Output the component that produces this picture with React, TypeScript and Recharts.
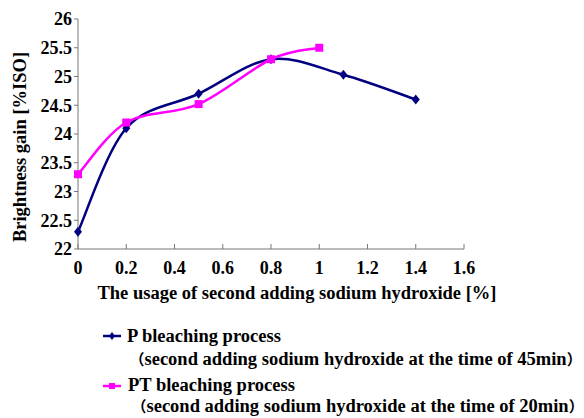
import React from "react";
import { LineChart, Line, XAxis, YAxis } from "recharts";

const xP = [0, 0.2, 0.5, 0.8, 1.1, 1.4];
const yP = [22.3, 24.1, 24.7, 25.3, 25.03, 24.6];
const xPT = [0, 0.2, 0.5, 0.8, 1.0];
const yPT = [23.3, 24.2, 24.52, 25.3, 25.5];
const xTicks = [0, 0.2, 0.4, 0.6, 0.8, 1, 1.2, 1.4, 1.6];
const yTicks = [22, 22.5, 23, 23.5, 24, 24.5, 25, 25.5, 26];

const pData = xP.map((x, i) => ({ x, y: yP[i] }));
const ptData = xPT.map((x, i) => ({ x, y: yPT[i] }));

const navy = "#000080";
const magenta = "#ff00ff";
const serif = "'Liberation Serif', 'Times New Roman', serif";
const cjk = "'Noto Sans CJK SC', sans-serif";

// excel-like smoothed line (catmull-rom through the points)
const smooth = (context: any) => {
  let pts: number[][] = [];
  return {
    areaStart() {},
    areaEnd() {},
    lineStart() {
      pts = [];
    },
    point(x: number, y: number) {
      pts.push([+x, +y]);
    },
    lineEnd() {
      if (!pts.length) return;
      context.moveTo(pts[0][0], pts[0][1]);
      for (let i = 0; i < pts.length - 1; i++) {
        const p0 = pts[Math.max(i - 1, 0)];
        const p1 = pts[i];
        const p2 = pts[i + 1];
        const p3 = pts[Math.min(i + 2, pts.length - 1)];
        context.bezierCurveTo(
          p1[0] + (p2[0] - p0[0]) / 6,
          p1[1] + (p2[1] - p0[1]) / 6,
          p2[0] - (p3[0] - p1[0]) / 6,
          p2[1] - (p3[1] - p1[1]) / 6,
          p2[0],
          p2[1]
        );
      }
    },
  };
};

const Diamond = (props: any) => {
  const { cx, cy, key } = props;
  return <polygon key={key} points={`${cx},${cy - 5} ${cx + 4},${cy} ${cx},${cy + 5} ${cx - 4},${cy}`} fill={navy} />;
};

const Square = (props: any) => {
  const { cx, cy, key } = props;
  return <rect key={key} x={cx - 4} y={cy - 4} width={8} height={8} fill={magenta} />;
};

const XTick = (props: any) => {
  const { x, y, payload } = props;
  return (
    <g>
      <line x1={x} x2={x} y1={y - 5} y2={y} stroke="#777" />
      <text x={x} y={y + 25} textAnchor="middle" fontSize={18} fontWeight="bold" fontFamily={serif} fill="#000">
        {payload.value}
      </text>
    </g>
  );
};

const legendRow = (top: number, left: number): React.CSSProperties => ({
  position: "absolute",
  top,
  left,
  fontSize: 18.5,
  fontWeight: "bold",
  fontFamily: serif,
  whiteSpace: "nowrap",
  lineHeight: "18px",
});

const parenStyle: React.CSSProperties = {
  fontFamily: cjk,
  fontSize: 15,
  display: "inline-block",
  lineHeight: "18px",
};

const Note = ({ text }: { text: string }) => (
  <>
    <span style={{ ...parenStyle, width: 18.5, textAlign: "right" }}>（</span>
    {text}
    <span style={{ ...parenStyle, width: 10 }}>）</span>
  </>
);

export default function App() {
  return (
    <div style={{ position: "absolute", left: 0, top: 0, width: 584, height: 418, background: "#fff", overflow: "hidden" }}>
      <LineChart width={584} height={310} margin={{ top: 19, right: 120, bottom: 0, left: 0 }}>
        <XAxis
          type="number"
          dataKey="x"
          domain={[0, 1.6]}
          ticks={xTicks}
          height={61}
          stroke="#777"
          tickLine={false}
          tickSize={0}
          tickMargin={0}
          tick={<XTick />}
          interval={0}
        />
        <YAxis
          type="number"
          domain={[22, 26]}
          ticks={yTicks}
          width={78}
          stroke="#777"
          tickSize={4}
          tickMargin={2}
          interval={0}
          tick={{ fill: "#000", fontSize: 18, fontWeight: "bold", fontFamily: serif }}
        />
        <Line
          data={pData}
          dataKey="y"
          type={smooth as any}
          stroke={navy}
          strokeWidth={2.5}
          dot={Diamond}
          activeDot={false}
          isAnimationActive={false}
        />
        <Line
          data={ptData}
          dataKey="y"
          type={smooth as any}
          stroke={magenta}
          strokeWidth={2.5}
          dot={Square}
          activeDot={false}
          isAnimationActive={false}
        />
      </LineChart>

      <div
        style={{
          position: "absolute",
          left: 20,
          top: 147,
          transform: "translate(-50%, -50%) rotate(-90deg)",
          fontSize: 18.5,
          fontWeight: "bold",
          fontFamily: serif,
          whiteSpace: "nowrap",
        }}
      >
        Brightness gain [%ISO]
      </div>
      <div
        style={{
          position: "absolute",
          left: 297,
          top: 293,
          transform: "translate(-50%, -50%)",
          fontSize: 18.5,
          fontWeight: "bold",
          fontFamily: serif,
          whiteSpace: "nowrap",
        }}
      >
        The usage of second adding sodium hydroxide [%]
      </div>

      <svg style={{ position: "absolute", left: 100, top: 330 }} width={26} height={70}>
        <line x1={3} x2={21} y1={6} y2={6} stroke={navy} strokeWidth={2.5} />
        <polygon points="12,2 15,6 12,10 9,6" fill={navy} />
        <line x1={3} x2={21} y1={56} y2={56} stroke={magenta} strokeWidth={2.5} />
        <rect x={9} y={53} width={6} height={6} fill={magenta} />
      </svg>
      <div style={legendRow(327, 127)}>P bleaching process</div>
      <div style={legendRow(350, 126)}>
        <Note text="second adding sodium hydroxide at the time of 45min" />
      </div>
      <div style={legendRow(376, 128)}>PT bleaching process</div>
      <div style={legendRow(397, 128)}>
        <Note text="second adding sodium hydroxide at the time of 20min" />
      </div>
    </div>
  );
}
